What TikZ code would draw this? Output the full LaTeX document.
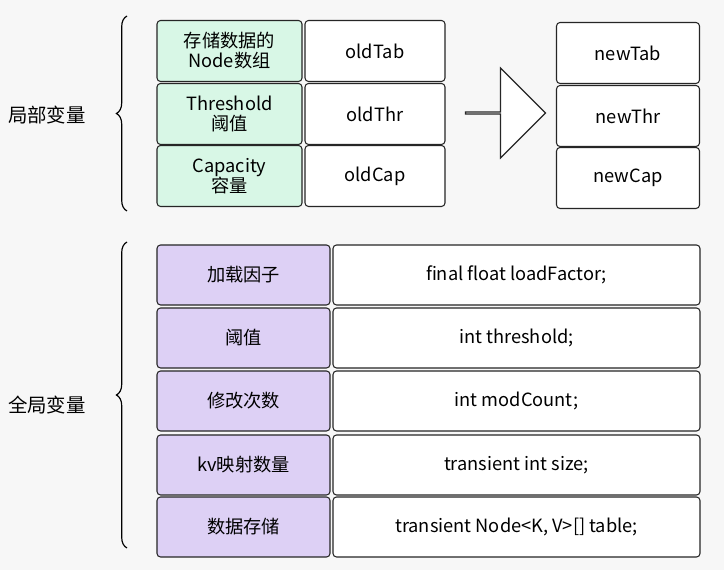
\documentclass[tikz,border=0pt]{standalone}
\usepackage{fontspec}
\setmainfont{Noto Sans CJK SC}
\usetikzlibrary{shapes.arrows, decorations.pathreplacing}
\definecolor{bgcol}{HTML}{F7F7F7}
\definecolor{greencell}{HTML}{D8F7E6}
\definecolor{purplecell}{HTML}{DDD0F5}
\tikzstyle{cell} = [rectangle, rounded corners=3pt, draw=black!85, line width=0.9pt, text centered, align=center, font=\fontsize{15.5}{17}\selectfont, inner sep=0pt]
\tikzstyle{oldkey} = [cell, fill=greencell, minimum width=145*0.85pt, minimum height=61*0.85pt]
\tikzstyle{oldval} = [cell, fill=white, minimum width=140*0.85pt, minimum height=61*0.85pt]
\tikzstyle{newval} = [cell, fill=white, minimum width=143*0.85pt, minimum height=61*0.85pt]
\tikzstyle{fieldkey} = [cell, fill=purplecell, minimum width=173*0.85pt, minimum height=60*0.85pt]
\tikzstyle{fieldval} = [cell, fill=white, minimum width=367*0.85pt, minimum height=60*0.85pt]
\tikzstyle{brace} = [draw, line width=1pt, decorate, decoration={brace, mirror, amplitude=9pt}]
\tikzstyle{sidelabel} = [font=\fontsize{16.5}{18}\selectfont]

\begin{document}
\begin{tikzpicture}[x=0.85pt, y=-0.85pt]
\fill [bgcol] (0,0) rectangle (724,570);
\useasboundingbox (0,0) rectangle (724,570);
% local variables
\node (tabkey) [oldkey] at (229.5,51) {存储数据的\\Node数组};
\node (thrkey) [oldkey] at (229.5,114) {Threshold\\阈值};
\node (capkey) [oldkey] at (229.5,176) {Capacity\\容量};
\node (oldtab) [oldval] at (375,51) {oldTab};
\node (oldthr) [oldval] at (375,114) {oldThr};
\node (oldcap) [oldval] at (375,176) {oldCap};
\node (newtab) [newval] at (628,53) {newTab};
\node (newthr) [newval] at (628,116) {newThr};
\node (newcap) [newval] at (628,178) {newCap};
\node (shift) [single arrow, draw=black!85, line width=1pt, fill=white, minimum height=80*0.85pt, minimum width=90*0.85pt, single arrow head extend=27*0.85pt, single arrow head indent=0pt, inner sep=0pt] at (505,113) {};
\coordinate (ltop) at (127,16);
\coordinate (lbot) at (127,211);
\draw [brace] (ltop) -- (lbot);
\node (local) [sidelabel] at (47,115) {局部变量};
% member fields
\node (lfkey) [fieldkey] at (243.5,275) {加载因子};
\node (thkey) [fieldkey] at (243.5,338) {阈值};
\node (mckey) [fieldkey] at (243.5,401) {修改次数};
\node (szkey) [fieldkey] at (243.5,465) {kv映射数量};
\node (tbkey) [fieldkey] at (243.5,527) {数据存储};
\node (lfval) [fieldval] at (516.5,275) {final float loadFactor;};
\node (thval) [fieldval] at (516.5,338) {int threshold;};
\node (mcval) [fieldval] at (516.5,401) {int modCount;};
\node (szval) [fieldval] at (516.5,465) {transient int size;};
\node (tbval) [fieldval] at (516.5,527) {transient Node<K, V>[] table;};
\coordinate (gtop) at (127,242);
\coordinate (gbot) at (127,548);
\draw [brace] (gtop) -- (gbot);
\node (global) [sidelabel] at (47,405) {全局变量};
\end{tikzpicture}
\end{document}
